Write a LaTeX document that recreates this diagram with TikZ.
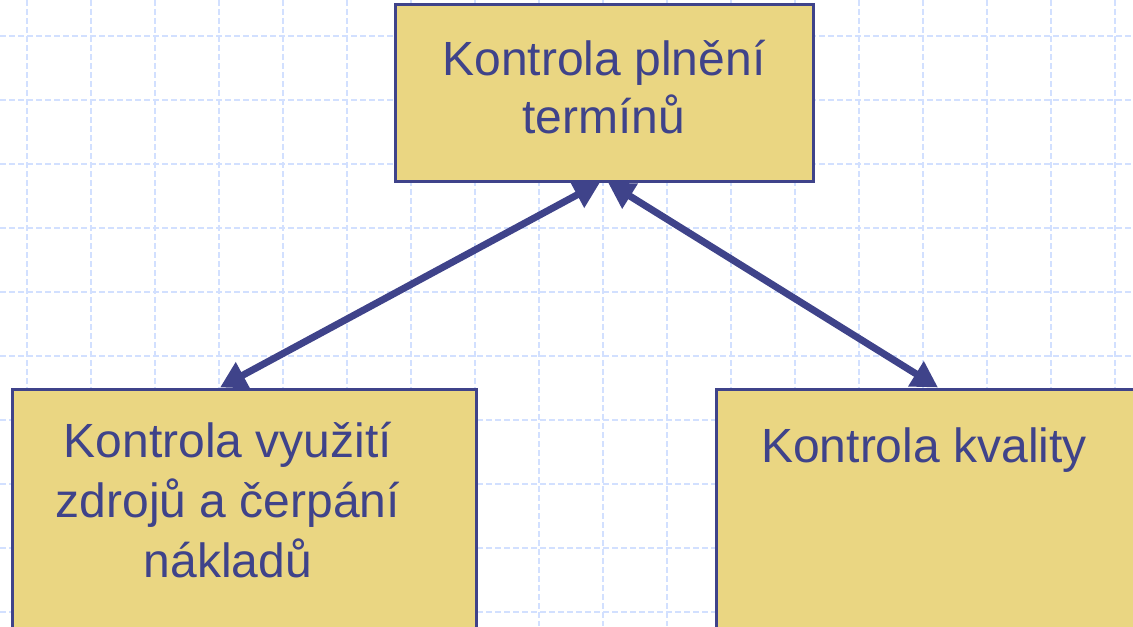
\documentclass[tikz,border=0pt]{standalone}
\usepackage{fontspec}
\setmainfont{Liberation Sans}
\usepackage{tikz}
\usetikzlibrary{positioning,calc,arrows.meta}
\definecolor{SlideBlue}{RGB}{63,67,138}
\definecolor{SlideSand}{RGB}{234,214,130}
\definecolor{GridBlue}{RGB}{210,224,255}

\begin{document}
\begin{tikzpicture}[
        x=0.5pt, y=-0.5pt,
        % --- STYLE CHUNG ---
        common/.style={
            rectangle,
            draw=SlideBlue,
            fill=SlideSand,
            line width=1.5pt,
            inner sep=0pt
        },
        % Style hop tren
        top_box/.style={
            common,
            minimum width=209pt,
            minimum height=88pt
        },
        % Style hop duoi
        low_box/.style={
            common,
            minimum width=232pt,
            minimum height=156pt
        },
        % Style chu
        box_text/.style={
            text=SlideBlue,
            align=center,
            inner sep=0pt,
            font=\fontsize{24}{29}\selectfont
        },
        % Style mui ten
        link/.style={
            draw=SlideBlue,
            line width=3.5pt,
            {Triangle[length=13pt,width=14pt]}-{Triangle[length=13pt,width=14pt]}
        },
        % Luoi nen
        grid_line/.style={
            draw=GridBlue,
            line width=0.6pt,
            dash pattern=on 3pt off 1.5pt
        }
    ]

        \useasboundingbox (0,0) rectangle (1133,626);
        \clip (0,0) rectangle (1133,626);

        % --- LUOI NEN ---
        \foreach \gx in {27,91,...,1115} {
            \draw[grid_line] (\gx,0) -- (\gx,626);
        }
        \foreach \gy in {36,100,...,626} {
            \draw[grid_line] (0,\gy) -- (1133,\gy);
        }

        % --- CAC HOP ---
        \node[top_box] (top) at (604,93) {};
        \node[low_box] (left) at (244,545) {};
        \node[low_box] (right) at (948,545) {};

        % --- CHU ---
        \node[box_text, anchor=north] (top_text) at (604,40) {Kontrola plnění\\termínů};
        \node[box_text, anchor=north, font=\fontsize{24}{30}\selectfont] (left_text) at (228,422) {Kontrola využití\\zdrojů a čerpání\\nákladů};
        \node[box_text, anchor=base] (right_text) at (924,462) {Kontrola kvality};

        % --- MUI TEN ---
        \draw[link] ($(top.south)+(-4,0)$) -- ($(left.north)+(-24,0)$);
        \draw[link] ($(top.south)+(4,0)$) -- ($(right.north)+(-10,0)$);

    \end{tikzpicture}
\end{document}
